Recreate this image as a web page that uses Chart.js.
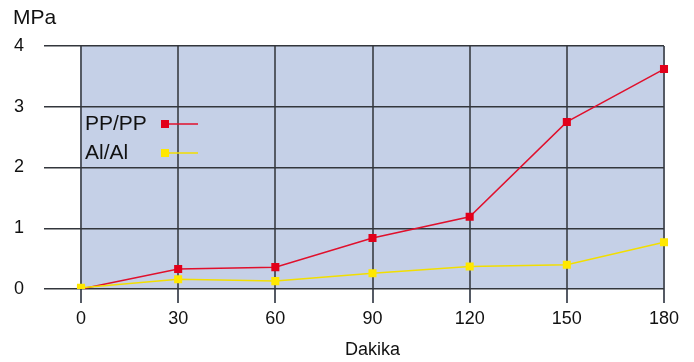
<!DOCTYPE html>
<html><head><meta charset="utf-8">
<script src="https://cdn.jsdelivr.net/npm/chart.js@4/dist/chart.umd.min.js"></script>
<style>html,body{margin:0;padding:0;background:#fff}#wrap{width:694px;height:362px}</style>
</head><body><div id="wrap"><canvas id="c" width="694" height="362"></canvas></div>
<script>
const categories = ["0","30","60","90","120","150","180"];
const ppValues = [0.0, 0.33, 0.36, 0.84, 1.19, 2.75, 3.62];
const alValues = [0.02, 0.16, 0.13, 0.26, 0.37, 0.40, 0.77];
const seriesNames = ["PP/PP", "Al/Al"];
const yTicks = [0,1,2,3,4];
const yUnit = "MPa";
const xTitle = "Dakika";

const FONT = "'Liberation Sans', Arial, Helvetica, sans-serif";

const bgPlugin = {
  id: 'bg',
  beforeDraw(chart) {
    const {ctx, chartArea: a} = chart;
    ctx.save();
    ctx.fillStyle = '#c5d0e7';
    ctx.fillRect(a.left, a.top, a.right - a.left, a.bottom - a.top);
    ctx.restore();
  },
  afterDraw(chart) {
    const {ctx} = chart;
    ctx.save();
    ctx.fillStyle = '#111';
    ctx.font = '21px ' + FONT;
    ctx.textBaseline = 'middle';
    ctx.fillText(yUnit, 13, 18);
    // legend
    chart.data.datasets.forEach((ds, i) => {
      const y = 124 + i * 29;
      ctx.fillStyle = '#111';
      ctx.font = '21px ' + FONT;
      ctx.textAlign = 'left';
      ctx.fillText(ds.label, 85, y);
      ctx.strokeStyle = ds.borderColor;
      ctx.lineWidth = 1.5;
      ctx.beginPath(); ctx.moveTo(165, y); ctx.lineTo(198, y); ctx.stroke();
      ctx.fillStyle = ds.pointBackgroundColor;
      ctx.fillRect(161, y - 4, 8, 8);
    });
    ctx.restore();
  }
};

new Chart(document.getElementById('c'), {
  type: 'line',
  data: {
    labels: categories,
    datasets: [
      { label: seriesNames[0], data: ppValues, borderColor: '#e0102c', backgroundColor: '#e2001a',
        pointBackgroundColor: '#e2001a', pointBorderWidth: 0, pointStyle: 'rect', pointRadius: 5.7,
        borderWidth: 1.5, tension: 0, order: 1 },
      { label: seriesNames[1], data: alValues, borderColor: '#f2de00', backgroundColor: '#ffe800',
        pointBackgroundColor: '#ffe800', pointBorderWidth: 0, pointStyle: 'rect', pointRadius: 5.7,
        borderWidth: 1.5, tension: 0, order: 0 }
    ]
  },
  options: {
    responsive: false,
    animation: false,
    layout: { padding: { top: 46, right: 30, left: 0, bottom: 0 } },
    plugins: { legend: { display: false }, tooltip: { enabled: false } },
    scales: {
      x: {
        offset: false,
        grid: { color: '#555a64', lineWidth: 2, tickLength: 14, drawOnChartArea: true },
        border: { display: false },
        ticks: { color: '#111', font: { family: FONT, size: 18 }, padding: 5, maxRotation: 0 },
        title: { display: true, text: xTitle, color: '#111', font: { family: FONT, size: 18 }, padding: { top: 4, bottom: 1 } },
        afterFit(s) { s.height = 73; }
      },
      y: {
        min: 0, max: 4,
        afterBuildTicks(s) { s.ticks = yTicks.map(v => ({ value: v })); },
        grid: { color: '#33363c', lineWidth: 1.5, tickLength: 37 },
        border: { display: false },
        ticks: { color: '#111', font: { family: FONT, size: 18 }, padding: 20 },
        afterFit(s) { s.width = 81; }
      }
    }
  },
  plugins: [bgPlugin]
});
</script></body></html>
